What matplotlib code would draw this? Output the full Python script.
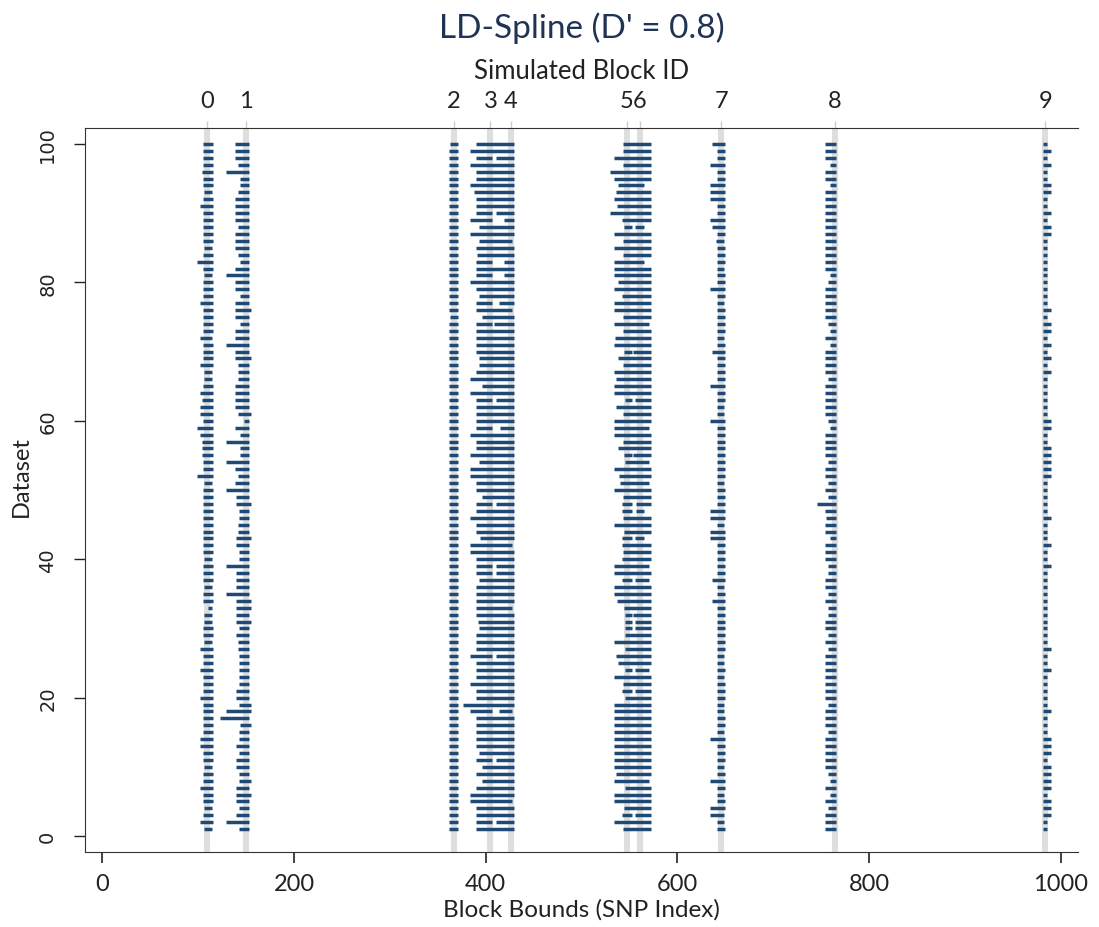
import matplotlib
matplotlib.use('Agg')
import matplotlib.pyplot as plt

plt.rcParams['font.family'] = ['Lato', 'DejaVu Sans']

# simulated block positions (SNP index) and their ids
block_pos = [109, 150, 367, 405, 426, 547, 561, 646, 764, 984]
block_ids = ['0', '1', '2', '3', '4', '5', '6', '7', '8', '9']

# datasets listed top to bottom
datasets = list(range(100, 0, -1))

# block 0
b0_start = [105, 105, 105, 105, 104, 105, 105, 106, 105, 102,
            105, 105, 105, 105, 105, 106, 105, 99, 105, 106,
            105, 105, 105, 102, 105, 105, 105, 105, 102, 105,
            105, 105, 102, 106, 106, 105, 102, 104, 102, 102,
            105, 99, 102, 104, 104, 104, 105, 105, 99, 106,
            105, 105, 105, 105, 105, 105, 105, 105, 105, 105,
            106, 105, 105, 105, 106, 105, 105, 110, 106, 106,
            105, 105, 106, 102, 105, 105, 102, 105, 105, 105,
            102, 105, 105, 105, 105, 105, 102, 102, 105, 105,
            106, 105, 105, 102, 105, 105, 106, 105, 102, 106]
b0_end = [116, 116, 116, 116, 116, 116, 116, 115, 116, 116,
          116, 116, 116, 116, 116, 115, 116, 116, 116, 115,
          116, 116, 116, 116, 116, 116, 116, 116, 115, 116,
          116, 116, 116, 115, 115, 116, 116, 116, 116, 116,
          116, 116, 116, 116, 116, 116, 116, 116, 116, 115,
          116, 116, 116, 116, 116, 116, 116, 116, 116, 116,
          115, 116, 116, 116, 115, 116, 116, 114, 115, 115,
          116, 116, 115, 116, 116, 116, 116, 116, 116, 116,
          116, 116, 116, 116, 116, 116, 116, 116, 116, 116,
          115, 116, 116, 116, 116, 116, 115, 116, 116, 115]

# block 1
b1_start = [139, 139, 139, 142, 129, 144, 144, 142, 139, 139,
            139, 139, 142, 139, 139, 139, 142, 144, 139, 129,
            139, 139, 144, 139, 139, 139, 144, 139, 139, 129,
            139, 139, 142, 142, 142, 139, 139, 139, 139, 142,
            148, 139, 144, 129, 144, 144, 129, 139, 142, 139,
            129, 140, 140, 143, 143, 142, 142, 140, 140, 143,
            143, 129, 140, 140, 140, 129, 140, 140, 140, 140,
            143, 140, 142, 142, 143, 143, 143, 143, 143, 140,
            140, 143, 129, 123, 144, 143, 143, 140, 143, 140,
            140, 143, 143, 140, 140, 140, 143, 140, 129, 143]
b1_end = [153, 153, 153, 153, 153, 153, 153, 153, 153, 153,
          153, 153, 153, 153, 153, 153, 153, 153, 153, 153,
          153, 153, 153, 153, 155, 153, 153, 153, 153, 153,
          153, 155, 153, 153, 153, 153, 153, 153, 153, 155,
          153, 153, 153, 153, 153, 153, 153, 153, 153, 153,
          153, 153, 155, 153, 153, 153, 153, 155, 153, 153,
          153, 153, 153, 153, 153, 153, 155, 155, 153, 155,
          153, 153, 153, 153, 153, 153, 153, 153, 153, 153,
          153, 155, 155, 153, 155, 153, 153, 153, 153, 153,
          153, 153, 155, 153, 155, 153, 153, 153, 153, 153]

# block 2
b2_start = [363, 362, 362, 362, 362, 362, 362, 362, 362, 362,
            362, 362, 362, 362, 362, 362, 362, 362, 362, 362,
            362, 362, 362, 362, 362, 363, 362, 362, 362, 362,
            362, 362, 362, 362, 362, 362, 362, 362, 362, 362,
            362, 362, 362, 362, 362, 362, 362, 362, 362, 362,
            362, 362, 362, 362, 362, 362, 362, 362, 362, 362,
            362, 362, 362, 362, 362, 362, 362, 362, 362, 362,
            362, 362, 362, 362, 362, 362, 362, 362, 362, 362,
            362, 362, 362, 362, 362, 362, 362, 362, 362, 362,
            362, 362, 362, 362, 362, 362, 362, 362, 362, 362]
b2_end = [371, 371, 371, 371, 371, 371, 371, 371, 371, 371,
          371, 371, 371, 371, 371, 371, 371, 371, 371, 371,
          371, 371, 371, 371, 371, 371, 371, 371, 371, 371,
          371, 371, 371, 371, 371, 371, 371, 371, 371, 371,
          371, 371, 371, 371, 371, 371, 371, 371, 371, 371,
          371, 371, 371, 371, 371, 371, 371, 371, 371, 371,
          371, 371, 371, 371, 371, 371, 371, 371, 371, 371,
          371, 371, 371, 371, 371, 371, 371, 371, 371, 371,
          371, 371, 371, 371, 371, 371, 371, 371, 371, 371,
          371, 371, 371, 371, 371, 371, 371, 371, 371, 371]

# blocks 3 + 4 (one segment, or two where a gap is listed)
b34_start = [390, 384, 390, 384, 390, 390, 384, 388, 390, 390,
             390, 384, 393, 384, 393, 390, 391, 390, 390, 390,
             384, 390, 393, 390, 390, 396, 390, 390, 390, 390,
             390, 393, 393, 390, 384, 396, 384, 390, 390, 390,
             390, 390, 384, 390, 390, 384, 393, 384, 384, 390,
             390, 396, 390, 390, 384, 390, 390, 394, 384, 384,
             390, 390, 390, 393, 390, 390, 390, 390, 390, 392,
             393, 390, 390, 390, 384, 390, 390, 390, 384, 390,
             390, 376, 384, 390, 390, 390, 390, 390, 393, 390,
             396, 390, 396, 390, 384, 384, 390, 390, 390, 390]
b34_end = [430, 430, 430, 430, 430, 430, 430, 430, 430, 430,
           430, 430, 430, 430, 427, 430, 430, 430, 430, 430,
           430, 430, 430, 430, 427, 430, 430, 430, 430, 430,
           430, 430, 430, 430, 430, 430, 430, 430, 430, 430,
           430, 430, 430, 430, 430, 430, 430, 430, 430, 430,
           430, 430, 430, 430, 430, 430, 430, 430, 427, 430,
           430, 430, 430, 430, 430, 430, 430, 427, 430, 430,
           430, 430, 430, 430, 430, 430, 430, 430, 430, 430,
           430, 430, 427, 430, 430, 430, 430, 430, 430, 430,
           430, 430, 430, 430, 430, 427, 430, 430, 430, 430]
b34_gaps = {98: (407, 411), 90: (407, 411), 89: (407, 419), 83: (407, 419),
            81: (407, 419), 77: (407, 414), 74: (407, 409), 63: (407, 411),
            59: (407, 415), 48: (407, 411), 39: (407, 411), 38: (407, 411),
            26: (407, 411), 18: (407, 414), 11: (407, 411), 2: (407, 411)}

# blocks 5 + 6
b56_start = [543, 543, 534, 543, 530, 534, 538, 536, 534, 537,
             530, 542, 544, 534, 543, 534, 543, 534, 534, 534,
             538, 534, 542, 534, 534, 543, 534, 543, 535, 534,
             544, 538, 543, 534, 536, 534, 534, 545, 536, 543,
             534, 534, 534, 543, 538, 544, 545, 534, 539, 540,
             534, 543, 542, 542, 543, 534, 544, 542, 542, 543,
             542, 534, 534, 542, 534, 534, 537, 544, 545, 545,
             545, 545, 534, 545, 536, 538, 545, 534, 543, 542,
             545, 534, 534, 534, 534, 534, 534, 534, 534, 534,
             534, 536, 534, 545, 534, 534, 544, 542, 534, 543]
b56_end = [573, 573, 573, 573, 573, 573, 565, 572, 573, 572,
           573, 572, 565, 573, 573, 573, 573, 565, 573, 573,
           573, 573, 573, 573, 572, 573, 570, 573, 572, 572,
           573, 573, 573, 573, 573, 573, 573, 572, 572, 573,
           573, 570, 573, 573, 573, 573, 570, 572, 572, 570,
           573, 573, 573, 565, 573, 573, 573, 565, 573, 573,
           573, 570, 573, 570, 572, 573, 573, 573, 573, 573,
           573, 573, 573, 573, 573, 573, 570, 573, 573, 572,
           573, 573, 573, 573, 573, 573, 573, 573, 573, 573,
           573, 572, 570, 573, 573, 573, 573, 573, 572, 573]
b56_gaps = {88: (553, 556), 70: (553, 554), 63: (553, 556), 55: (553, 554),
            48: (553, 557), 47: (553, 557), 43: (553, 556), 37: (553, 556),
            32: (553, 554), 31: (553, 556), 30: (553, 556), 24: (553, 556),
            21: (553, 556), 3: (553, 556)}

# block 7
b7_start = [636, 641, 641, 634, 641, 641, 634, 634, 634, 641,
            641, 634, 636, 641, 640, 641, 641, 641, 641, 641,
            641, 634, 641, 641, 641, 641, 641, 641, 641, 641,
            636, 641, 641, 641, 641, 634, 641, 641, 641, 641,
            634, 641, 641, 641, 641, 641, 641, 641, 641, 641,
            641, 641, 641, 634, 634, 641, 634, 634, 641, 641,
            641, 641, 641, 636, 641, 641, 636, 641, 641, 641,
            641, 641, 641, 641, 641, 641, 641, 641, 641, 641,
            641, 641, 641, 641, 641, 641, 634, 641, 641, 641,
            641, 641, 634, 641, 641, 641, 634, 634, 641, 641]
b7_end = [650, 650, 650, 650, 650, 650, 650, 650, 650, 650,
          650, 650, 650, 650, 649, 650, 650, 650, 649, 650,
          650, 650, 650, 649, 650, 650, 650, 650, 649, 650,
          650, 650, 650, 650, 650, 650, 650, 650, 649, 649,
          650, 650, 650, 650, 650, 650, 650, 650, 650, 649,
          650, 650, 650, 650, 650, 649, 650, 650, 650, 650,
          650, 650, 650, 650, 649, 650, 650, 650, 650, 650,
          650, 650, 650, 650, 649, 649, 650, 649, 650, 650,
          650, 649, 649, 650, 650, 649, 650, 650, 650, 650,
          649, 650, 650, 650, 649, 650, 650, 649, 649, 650]

# block 8
b8_start = [754, 754, 754, 759, 754, 754, 759, 754, 754, 754,
            754, 754, 754, 754, 754, 754, 754, 754, 754, 759,
            757, 754, 754, 754, 754, 754, 757, 759, 754, 759,
            754, 754, 754, 754, 757, 754, 754, 754, 754, 754,
            757, 759, 754, 754, 754, 754, 757, 754, 754, 757,
            754, 757, 746, 754, 755, 754, 754, 759, 754, 754,
            754, 757, 757, 754, 754, 757, 754, 757, 757, 754,
            754, 757, 754, 757, 754, 754, 754, 754, 754, 754,
            754, 757, 754, 754, 754, 757, 754, 754, 754, 754,
            754, 757, 759, 754, 759, 754, 757, 754, 754, 754]
b8_end = [766] * 100

# block 9
b9_start = [982, 982, 982, 982, 982, 982, 982, 982, 982, 982,
            982, 982, 982, 982, 982, 982, 982, 982, 982, 982,
            982, 982, 982, 981, 982, 982, 982, 982, 982, 982,
            982, 982, 982, 981, 982, 981, 982, 982, 982, 982,
            982, 982, 981, 982, 982, 982, 982, 982, 982, 982,
            982, 982, 981, 982, 982, 981, 982, 982, 982, 982,
            982, 982, 982, 982, 982, 982, 981, 982, 982, 982,
            982, 982, 982, 982, 982, 982, 982, 982, 982, 982,
            982, 982, 982, 982, 982, 982, 982, 982, 982, 982,
            982, 982, 982, 982, 982, 982, 982, 982, 982, 982]
b9_end = [986, 990, 986, 990, 986, 986, 990, 990, 986, 986,
          990, 986, 990, 990, 986, 986, 986, 986, 986, 986,
          986, 986, 986, 986, 990, 986, 990, 990, 986, 990,
          986, 990, 986, 990, 986, 986, 986, 986, 986, 986,
          990, 990, 986, 986, 990, 990, 990, 990, 990, 986,
          986, 986, 986, 986, 990, 986, 986, 986, 990, 986,
          986, 990, 986, 986, 986, 986, 986, 986, 986, 986,
          986, 986, 986, 990, 986, 986, 990, 986, 986, 986,
          986, 986, 990, 986, 986, 986, 990, 990, 990, 986,
          990, 990, 990, 990, 986, 990, 990, 990, 986, 986]

groups = [(b0_start, b0_end, {}), (b1_start, b1_end, {}), (b2_start, b2_end, {}),
          (b34_start, b34_end, b34_gaps), (b56_start, b56_end, b56_gaps),
          (b7_start, b7_end, {}), (b8_start, b8_end, {}), (b9_start, b9_end, {})]

ys, x0s, x1s = [], [], []
for starts, ends, gaps in groups:
    for d, s, e in zip(datasets, starts, ends):
        if d in gaps:
            g0, g1 = gaps[d]
            ys += [d, d]
            x0s += [s, g1]
            x1s += [g0, e]
        else:
            ys.append(d)
            x0s.append(s)
            x1s.append(e)

fig = plt.figure(figsize=(10.99, 9.28), dpi=100)
ax = fig.add_axes([85 / 1099, 75 / 928, 993 / 1099, 724 / 928])

for p in block_pos:
    ax.axvline(p, color='#dedede', lw=4.4, zorder=0)

ax.hlines(ys, x0s, x1s, color='#1f4a75', lw=2.5, capstyle='butt', zorder=2)

ax.set_xlim(-18, 1018)
ax.set_ylim(-2.3, 102.3)
ax.set_xticks([0, 200, 400, 600, 800, 1000])
ax.set_yticks([0, 20, 40, 60, 80, 100])
ax.spines['right'].set_visible(False)
for s in ['left', 'top', 'bottom']:
    ax.spines[s].set_color('#333333')
ax.tick_params(axis='x', length=8, width=1.2, pad=7, labelsize=17, colors='#222222')
ax.tick_params(axis='y', length=8, width=1, pad=12, labelsize=14, colors='#222222')
for lab in ax.get_yticklabels():
    lab.set_rotation(90)
    lab.set_va('center')
    lab.set_family('DejaVu Sans')

ax.set_xlabel('Block Bounds (SNP Index)', fontsize=17.5, labelpad=3, color='#222222')
ax.set_ylabel('Dataset', fontsize=17, color='#222222')
ax.yaxis.set_label_coords(-0.053, 0.52)

top = ax.secondary_xaxis('top')
top.set_xticks(block_pos, labels=block_ids)
top.tick_params(length=5, width=1, color='#cccccc', pad=7, labelsize=17, labelcolor='#222222')
top.set_xlabel('Simulated Block ID', fontsize=18.5, labelpad=9, color='#222222')
top.spines['top'].set_visible(False)

fig.text(0.529, 1 - 28 / 928, "LD-Spline (D' = 0.8)", ha='center', va='center',
         fontsize=24, color='#1f3355')

fig.savefig('out.png', dpi=100)
